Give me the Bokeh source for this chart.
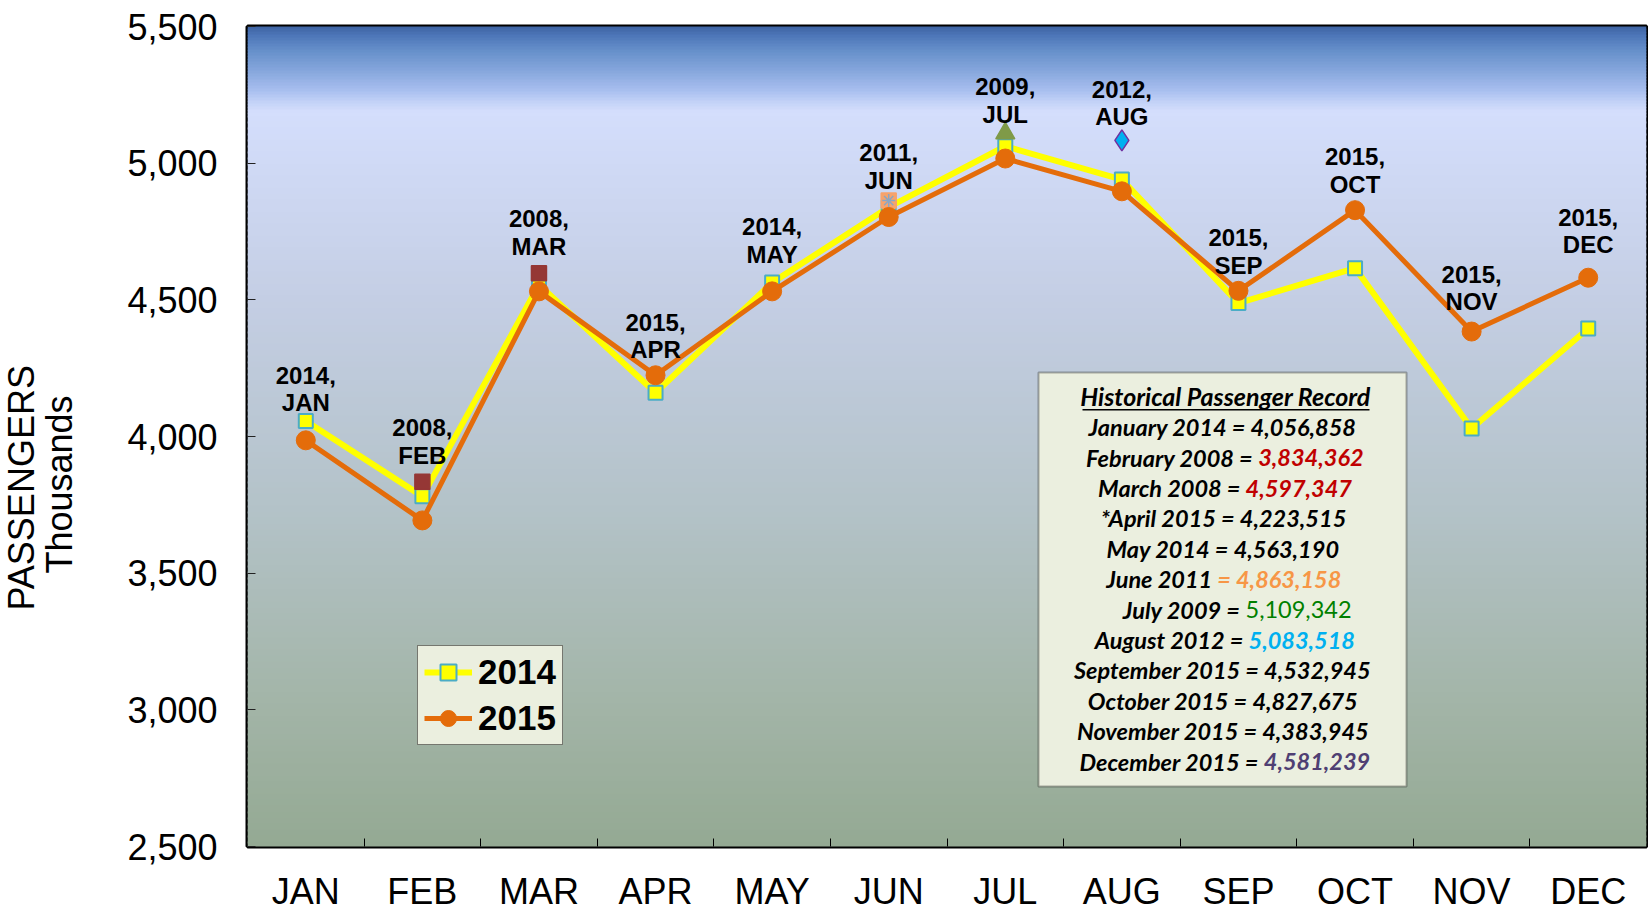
import math
from bokeh.plotting import figure
from bokeh.models import (Range1d, FixedTicker, NumeralTickFormatter, BoxAnnotation,
                          Label, Title)
from bokeh.core.properties import value
from bokeh.embed import file_html
from bokeh.resources import INLINE

# ---------------- data ----------------
months = ["JAN", "FEB", "MAR", "APR", "MAY", "JUN", "JUL", "AUG", "SEP", "OCT", "NOV", "DEC"]
pax_2014 = [4057, 3781, 4555, 4160, 4563, 4839, 5062, 4940, 4488, 4616, 4029, 4395]
pax_2015 = [3986, 3693, 4531, 4224, 4531, 4803, 5017, 4897, 4533, 4828, 4384, 4581]
record_years = ["2014", "2008", "2008", "2015", "2014", "2011", "2009", "2012",
                "2015", "2015", "2015", "2015"]
older_months = ["FEB", "MAR", "JUN", "JUL", "AUG"]
older_values = [3834.362, 4597.347, 4863.158, 5109.342, 5083.518]
y_ticks = [2500, 3000, 3500, 4000, 4500, 5000, 5500]

table_title = "Historical Passenger Record"
table_left = ["January 2014 = 4,056,858", "February 2008 =", "March 2008 =",
              "*April 2015 = 4,223,515", "May 2014 = 4,563,190", "June 2011",
              "July 2009 =", "August 2012 =", "September 2015 = 4,532,945",
              "October 2015 = 4,827,675", "November 2015 = 4,383,945", "December 2015 ="]
table_right = ["", "3,834,362", "4,597,347", "", "", "= 4,863,158", "5,109,342",
               "5,083,518", "", "", "", "4,581,239"]

# ---------------- styles / layout ----------------
older_markers = ["square", "square", "square", "triangle", "diamond"]
older_fill = ["#953735", "#953735", "#f7a36c", "#7f9a48", "#00b0f0"]
older_line = ["#953735", "#953735", "#f7a36c", "#7f9a48", "#7030a0"]
older_size = [15, 15, 15, 19, 21]
label_nudge = [8, 0, 0, 1, -2, 6, 7, 3, 1, 1, -3, -6]   # px, per point label
table_right_color = [None, "#c00000", "#c00000", None, None, "#f79646", "#008000",
                     "#00b0f0", None, None, None, "#4f3f73"]
table_right_style = [None, "bold italic", "bold italic", None, None, "bold italic",
                     "normal", "bold italic", None, None, None, "bold italic"]
table_split_x = [None, 1257.7, 1245, None, None, 1216.7, 1245, 1248, None, None, None, 1263.3]
table_center_x = [1222, 1222, 1223, 1223, 1222.5, 1222, 1236, 1222, 1222, 1222.5, 1222.5, 1223]
TFONT = "Lato"
TSIZE = "23.5px"

FRAME_L, FRAME_T, FRAME_B = 247, 26, 846


def sx(px):
    return px - FRAME_L


def sy(py):
    return FRAME_B - py


xs = [i + 0.5 for i in range(len(months))]

p = figure(width=1648, height=914,
           x_range=Range1d(0, len(months)), y_range=Range1d(y_ticks[0], y_ticks[-1]),
           output_backend="svg", toolbar_location=None,
           min_border_left=FRAME_L, min_border_right=2, min_border_top=FRAME_T,
           min_border_bottom=68,
           background_fill_color="#c0cbd8", border_fill_color="white",
           outline_line_color="black", outline_line_width=4)
p.grid.visible = False

# gradient background (page-y stops -> colour)
stops = [(26, "#3c62a0"), (36, "#4d76b8"), (50, "#648ec9"), (70, "#84a5db"),
         (90, "#a6bdee"), (102, "#c2d1f7"), (112, "#d4defc"), (300, "#c4cee4"),
         (500, "#b4c3c9"), (700, "#a3b5a8"), (846, "#94a993")]


def hex2rgb(h):
    return tuple(int(h[i:i + 2], 16) for i in (1, 3, 5))


def colour_at(py):
    for (y0, c0), (y1, c1) in zip(stops[:-1], stops[1:]):
        if y0 <= py <= y1:
            t = (py - y0) / (y1 - y0)
            a, b = hex2rgb(c0), hex2rgb(c1)
            return "#%02x%02x%02x" % tuple(round(a[k] + (b[k] - a[k]) * t) for k in range(3))
    return stops[-1][1]


band_y = FRAME_T
while band_y < FRAME_B:
    step = 3 if band_y < 115 else 6
    p.add_layout(BoxAnnotation(top=sy(band_y) + 1, bottom=sy(min(band_y + step, FRAME_B)) - 1,
                               top_units="screen", bottom_units="screen",
                               fill_color=colour_at(band_y + step / 2), fill_alpha=1,
                               line_color=None, level="underlay"))
    band_y += step

# axes
xa = p.xaxis[0]
xa.ticker = FixedTicker(ticks=xs, minor_ticks=list(range(1, len(months))))
xa.major_label_overrides = {x: m for x, m in zip(xs, months)}
xa.major_tick_line_color = None
xa.minor_tick_line_color = "black"
xa.minor_tick_in = 8
xa.minor_tick_out = 0
xa.axis_line_color = None
xa.major_label_standoff = 18

ya = p.yaxis[0]
ya.ticker = FixedTicker(ticks=y_ticks)
ya.formatter = NumeralTickFormatter(format="0,0")
ya.major_tick_in = 8
ya.major_tick_out = 0
ya.major_tick_line_color = "#222222"
ya.minor_tick_line_color = None
ya.axis_line_color = None
ya.major_label_standoff = 30

for ax in (xa, ya):
    ax.major_label_text_font = "Liberation Sans"
    ax.major_label_text_font_size = "36px"
    ax.major_label_text_color = "black"
    ax.major_label_text_font_style = "normal"

# y axis titles: spacer, inner line, outer line
p.add_layout(Title(text=" ", text_font_size="1px", standoff=42), "left")
p.add_layout(Title(text="Thousands", align="left", offset=273, standoff=0,
                   text_font="Liberation Sans", text_font_size="36px",
                   text_font_style="normal", text_color="black"), "left")
p.add_layout(Title(text="PASSENGERS", align="left", offset=236, standoff=-10,
                   text_font="Liberation Sans", text_font_size="36px",
                   text_font_style="normal", text_color="black"), "left")

# series
p.line(xs, pax_2014, line_color="#ffff00", line_width=6, legend_label="2014")
p.scatter(xs, pax_2014, marker="square", size=14, fill_color="#ffff00",
          line_color="#4bacc6", line_width=2, legend_label="2014")

older_x = [months.index(m) + 0.5 for m in older_months]
p.scatter(older_x, older_values, marker=older_markers, size=older_size,
          fill_color=older_fill, line_color=older_line, line_width=1.5)
jun_i = older_months.index("JUN")
p.scatter([older_x[jun_i]], [older_values[jun_i]], marker="asterisk", size=13,
          line_color="#8aa6c4", line_width=1.5)

p.line(xs, pax_2015, line_color="#e46c0a", line_width=5, legend_label="2015")
p.scatter(xs, pax_2015, marker="circle", size=19, fill_color="#e46c0a",
          line_color="#e46c0a", legend_label="2015")

# point labels
older_map = dict(zip(older_months, older_values))
label_y = [max(a, b, older_map.get(m, 0)) for a, b, m in zip(pax_2014, pax_2015, months)]
label_txt = [f"{yr},\n{m}" for yr, m in zip(record_years, months)]
p.text(x=xs, y=label_y, text=label_txt, text_font=value("Liberation Sans"),
       text_font_style="bold", text_font_size=value("24px"), text_color="black",
       text_align="center", text_baseline="bottom",
       y_offset=[-13 + n * 1.05 for n in label_nudge], text_line_height=1.03)

# legend
lg = p.legend[0]
lg.location = (sx(417), sy(745))
lg.background_fill_color = "#ebefdf"
lg.background_fill_alpha = 1
lg.border_line_color = "black"
lg.border_line_width = 1.5
lg.label_text_font = "Liberation Sans"
lg.label_text_font_style = "bold"
lg.label_text_font_size = "35px"
lg.label_text_color = "black"
lg.glyph_width = 48
lg.glyph_height = 40
lg.label_height = 40
lg.spacing = 6
lg.padding = 6
lg.margin = 0
lg.label_standoff = 6

# record table
p.add_layout(BoxAnnotation(left=sx(1038), right=sx(1406), top=sy(372), bottom=sy(786),
                           left_units="screen", right_units="screen",
                           top_units="screen", bottom_units="screen",
                           fill_color="#ebefdf", fill_alpha=1, line_color="black",
                           line_width=2))
p.add_layout(Label(x=sx(1225), y=sy(395.5), x_units="screen", y_units="screen", text=table_title,
                   text_align="center", text_baseline="middle", text_font=TFONT,
                   text_font_size="25px", text_font_style="bold italic", text_color="black"))
p.add_layout(BoxAnnotation(left=sx(1082), right=sx(1369), top=sy(408.5), bottom=sy(410),
                           left_units="screen", right_units="screen",
                           top_units="screen", bottom_units="screen",
                           fill_color="black", fill_alpha=1, line_color=None))
for i, (lt, rt) in enumerate(zip(table_left, table_right)):
    py = 426.7 + 30.4 * i
    if rt:
        split = table_split_x[i]
        p.add_layout(Label(x=sx(split) - 5, y=sy(py), x_units="screen", y_units="screen",
                           text=lt, text_align="right", text_baseline="middle",
                           text_font=TFONT, text_font_size=TSIZE,
                           text_font_style="bold italic", text_color="black"))
        p.add_layout(Label(x=sx(split), y=sy(py), x_units="screen", y_units="screen",
                           text=rt, text_align="left", text_baseline="middle",
                           text_font=TFONT, text_font_size=TSIZE,
                           text_font_style=table_right_style[i],
                           text_color=table_right_color[i]))
    else:
        p.add_layout(Label(x=sx(table_center_x[i]), y=sy(py), x_units="screen", y_units="screen",
                           text=lt, text_align="center", text_baseline="middle",
                           text_font=TFONT, text_font_size=TSIZE,
                           text_font_style="bold italic", text_color="black"))

open("out.html", "w").write(file_html(p, INLINE))
